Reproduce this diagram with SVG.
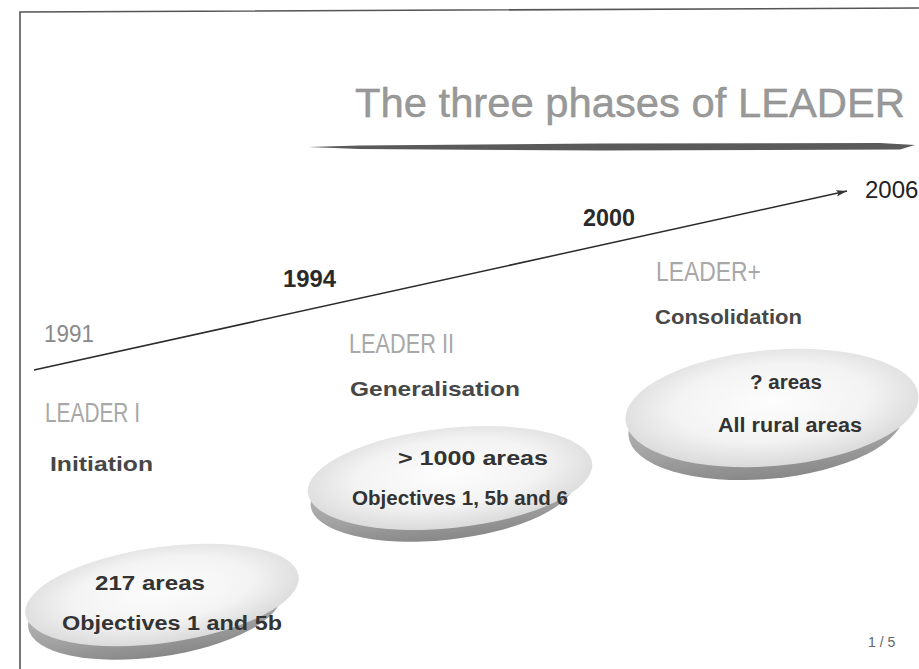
<svg xmlns="http://www.w3.org/2000/svg" width="919" height="669" viewBox="0 0 919 669">
<defs>
<style>
.t{font-family:"Liberation Sans",Arial,sans-serif}
.lead{font-size:27px;fill:#a8a8a8}
.sub{font-size:21px;font-weight:bold;fill:#474747}
.in{font-size:20px;font-weight:bold;fill:#333}
.yr{font-size:23px;font-weight:bold;fill:#2a2a2a}
.light{fill:url(#lg)}
.dark{fill:url(#dg)}
</style>
<radialGradient id="lg" cx="50%" cy="45%" r="55%">
<stop offset="0" stop-color="#fdfdfd"/>
<stop offset="0.6" stop-color="#f3f3f3"/>
<stop offset="1" stop-color="#dadada"/>
</radialGradient>
<linearGradient id="dg" x1="0" y1="0" x2="0" y2="1">
<stop offset="0" stop-color="#c8c8c8"/>
<stop offset="0.7" stop-color="#a2a2a2"/>
<stop offset="1" stop-color="#888"/>
</linearGradient>
<marker id="ah" markerWidth="12" markerHeight="8" refX="11" refY="4" orient="auto" markerUnits="userSpaceOnUse">
<path d="M0,0.8 L11,4 L0,7.2 L2.5,4 Z" fill="#333"/>
</marker>
</defs>
<rect width="919" height="669" fill="#fff"/>
<g id="frame" fill="none" stroke="#555" stroke-width="1.6">
<path d="M20,669 L20,12 L919,8"/>
</g>
<g id="title">
<text class="t" x="355" y="117" font-size="41" fill="#999" stroke="#8a8a8a" stroke-width="0.4" textLength="550" lengthAdjust="spacingAndGlyphs">The three phases of LEADER</text>
<path d="M308,147 L360,145.5 L600,143.5 L880,143 L915,145 L900,149.5 L600,150.5 L360,149 Z" fill="#5a5a5a"/>
</g>
<g id="connectors">
<line x1="34" y1="370" x2="847" y2="191" stroke="#2a2a2a" stroke-width="1.5" marker-end="url(#ah)"/>
</g>
<g id="years">
<text class="t" x="44" y="342" font-size="23" fill="#8a8a8a" textLength="50" lengthAdjust="spacingAndGlyphs">1991</text>
<text class="t yr" x="283" y="287" textLength="53" lengthAdjust="spacingAndGlyphs">1994</text>
<text class="t yr" x="583" y="226" textLength="52" lengthAdjust="spacingAndGlyphs">2000</text>
<text class="t" x="865" y="198" font-size="24" fill="#222">2006</text>
</g>
<g id="leader1">
<ellipse class="dark" cx="155" cy="610" rx="128" ry="47" transform="rotate(-8 155 610)"/>
<ellipse class="light" cx="162" cy="595" rx="138" ry="48" transform="rotate(-8 162 595)"/>
<text class="t lead" x="45" y="422" textLength="95" lengthAdjust="spacingAndGlyphs">LEADER I</text>
<text class="t sub" x="50" y="471" textLength="103" lengthAdjust="spacingAndGlyphs">Initiation</text>
<text class="t in" x="95" y="590" textLength="110" lengthAdjust="spacingAndGlyphs">217 areas</text>
<text class="t in" x="62" y="630" textLength="220" lengthAdjust="spacingAndGlyphs">Objectives 1 and 5b</text>
</g>
<g id="leader2">
<ellipse class="dark" cx="443" cy="492" rx="133" ry="48" transform="rotate(-6 443 492)"/>
<ellipse class="light" cx="450" cy="478" rx="143" ry="50" transform="rotate(-6 450 478)"/>
<text class="t lead" x="349" y="353" textLength="105" lengthAdjust="spacingAndGlyphs">LEADER II</text>
<text class="t sub" x="350" y="396" textLength="170" lengthAdjust="spacingAndGlyphs">Generalisation</text>
<text class="t in" x="398" y="465" textLength="150" lengthAdjust="spacingAndGlyphs">&gt; 1000 areas</text>
<text class="t in" x="352" y="505" textLength="216" lengthAdjust="spacingAndGlyphs">Objectives 1, 5b and 6</text>
</g>
<g id="leaderplus">
<ellipse class="dark" cx="766" cy="424" rx="138" ry="55" transform="rotate(-5 766 424)"/>
<ellipse class="light" cx="772" cy="408" rx="147" ry="58" transform="rotate(-5 772 408)"/>
<text class="t lead" x="656" y="281" textLength="105" lengthAdjust="spacingAndGlyphs">LEADER+</text>
<text class="t sub" x="655" y="324" textLength="147" lengthAdjust="spacingAndGlyphs">Consolidation</text>
<text class="t in" x="750" y="389" textLength="72" lengthAdjust="spacingAndGlyphs">? areas</text>
<text class="t in" x="718" y="432" textLength="144" lengthAdjust="spacingAndGlyphs">All rural areas</text>
</g>
<g id="page">
<text class="t" x="868" y="647" font-size="14" fill="#666">1 / 5</text>
</g>
</svg>
